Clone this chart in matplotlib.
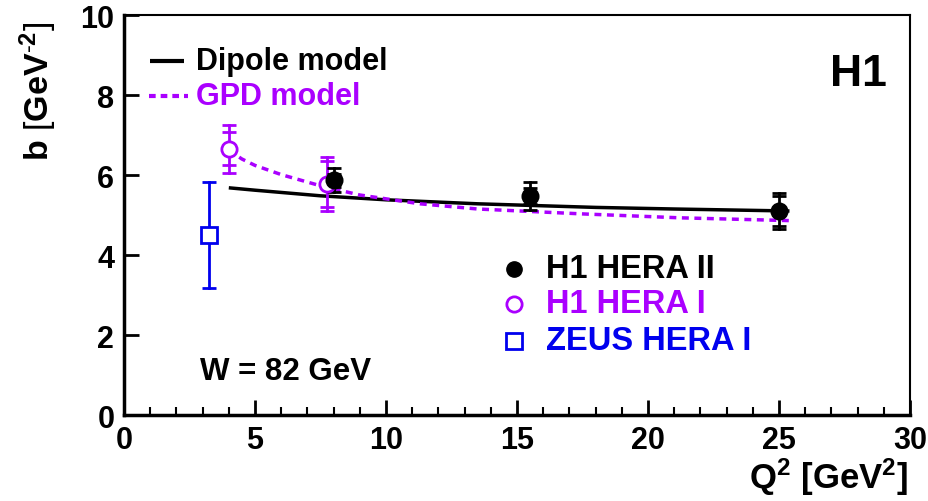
import matplotlib
matplotlib.use("Agg")
import matplotlib.pyplot as plt
import numpy as np
from matplotlib.ticker import MultipleLocator

plt.rcParams['font.family'] = ['Liberation Sans', 'DejaVu Sans']
plt.rcParams['mathtext.fontset'] = 'custom'
plt.rcParams['mathtext.rm'] = 'Liberation Sans'
plt.rcParams['mathtext.bf'] = 'Liberation Sans:bold'

# H1 HERA II
h2_q2 = [8.0, 15.5, 25.0]
h2_b = [5.87, 5.47, 5.10]
h2_stat = [0.16, 0.20, 0.38]
h2_tot = [0.30, 0.35, 0.45]

# H1 HERA I
h1_q2 = [4.0, 7.75]
h1_b = [6.66, 5.78]
h1_stat = [0.42, 0.58]
h1_tot = [0.60, 0.68]

# ZEUS HERA I
z_q2 = [3.25]
z_b = [4.50]
z_tot = [1.32]

# Models
dip_q2 = [4.0, 5.0, 7.5, 10.0, 13.5, 15.5, 18.0, 21.0, 25.4]
dip_b = [5.68, 5.62, 5.48, 5.38, 5.28, 5.24, 5.19, 5.15, 5.10]
gpd_q2 = [4.0, 4.5, 5.0, 6.0, 7.5, 9.0, 11.3, 13.5, 17.4, 21.2, 25.4]
gpd_b = [6.62, 6.40, 6.24, 6.01, 5.73, 5.50, 5.28, 5.15, 5.03, 4.93, 4.86]

fig = plt.figure(figsize=(9.29, 5.02), dpi=100)
ax = fig.add_axes([124/929, 1-416/502, (910-124)/929, (416-16)/502])

ax.plot(dip_q2, dip_b, color='black', lw=2.5, solid_capstyle='butt', zorder=2)
ax.plot(gpd_q2, gpd_b, color='#aa00ff', lw=2.5, ls=(0, (2.0, 1.6)), zorder=2)

def errs(x, y, tot, stat, color, mfc, marker, ms):
    for xi, yi, t in zip(x, y, tot):
        ax.plot([xi, xi], [yi - t, yi + t], color=color, lw=2, zorder=3)
        ax.plot([xi], [yi + t], marker='_', color=color, ms=10, mew=2, zorder=3)
        ax.plot([xi], [yi - t], marker='_', color=color, ms=10, mew=2, zorder=3)
    if stat is not None:
        for xi, yi, s in zip(x, y, stat):
            ax.plot([xi], [yi + s], marker='_', color=color, ms=10, mew=2, zorder=3)
            ax.plot([xi], [yi - s], marker='_', color=color, ms=10, mew=2, zorder=3)
    ax.plot(x, y, ls='none', marker=marker, color=color, mfc=mfc, ms=ms, mew=2, zorder=4)

errs(z_q2, z_b, z_tot, None, '#0000ee', 'white', 's', 11)
errs(h1_q2, h1_b, h1_tot, h1_stat, '#aa00ff', 'white', 'o', 11)
errs(h2_q2, h2_b, h2_tot, h2_stat, 'black', 'black', 'o', 11)

ax.set_xlim(0, 30)
ax.set_ylim(0, 10)
ax.xaxis.set_major_locator(MultipleLocator(5))
ax.xaxis.set_minor_locator(MultipleLocator(1))
ax.yaxis.set_major_locator(MultipleLocator(2))
ax.tick_params(axis='both', which='major', direction='in', length=11, width=2,
               labelsize=22, pad=7)
ax.tick_params(axis='x', which='minor', direction='in', length=6, width=1.5)
ax.tick_params(top=False, right=False)
for lab in ax.get_xticklabels() + ax.get_yticklabels():
    lab.set_fontweight('bold')
for s in ['left', 'bottom']:
    ax.spines[s].set_linewidth(2.5)
for s in ['top', 'right']:
    ax.spines[s].set_linewidth(1.5)

# axis titles
fig.text(908/929, 1-477/502, r'$\mathbf{Q^{2}}$ [$\mathbf{GeV^{2}}$]', ha='right', va='center',
         fontsize=25, fontweight='bold')
fig.text(38/929, 1-91/502, r'$\mathbf{b}$ [$\mathbf{GeV^{\text{-}2}}$]', ha='center', va='center',
         fontsize=24.5, rotation=90)

# legend (models)
ax.plot([1.0, 2.3], [8.85, 8.85], color='black', lw=3, solid_capstyle='butt')
ax.text(2.75, 8.85, 'Dipole model', fontsize=22, fontweight='bold', va='center')
ax.plot([0.95, 2.45], [7.98, 7.98], color='#aa00ff', lw=3, ls=(0, (1.6, 1.2)))
ax.text(2.75, 7.98, 'GPD model', fontsize=22, fontweight='bold', va='center', color='#aa00ff')

# legend (data)
ax.plot([14.9], [3.65], marker='o', color='black', ms=11, ls='none')
ax.text(16.1, 3.65, 'H1 HERA II', fontsize=23.5, fontweight='bold', va='center')
ax.plot([14.9], [2.78], marker='o', color='#aa00ff', mfc='white', mew=2, ms=11, ls='none')
ax.text(16.1, 2.78, 'H1 HERA I', fontsize=23.5, fontweight='bold', va='center', color='#aa00ff')
ax.plot([14.9], [1.85], marker='s', color='#0000ee', mfc='white', mew=2, ms=11, ls='none')
ax.text(16.1, 1.85, 'ZEUS HERA I', fontsize=23.5, fontweight='bold', va='center', color='#0000ee')

ax.text(2.9, 1.1, 'W = 82 GeV', fontsize=22.5, fontweight='bold', va='center')
ax.text(29.1, 8.53, 'H1', fontsize=32, fontweight='bold', va='center', ha='right')

fig.savefig('out.png', dpi=100)
